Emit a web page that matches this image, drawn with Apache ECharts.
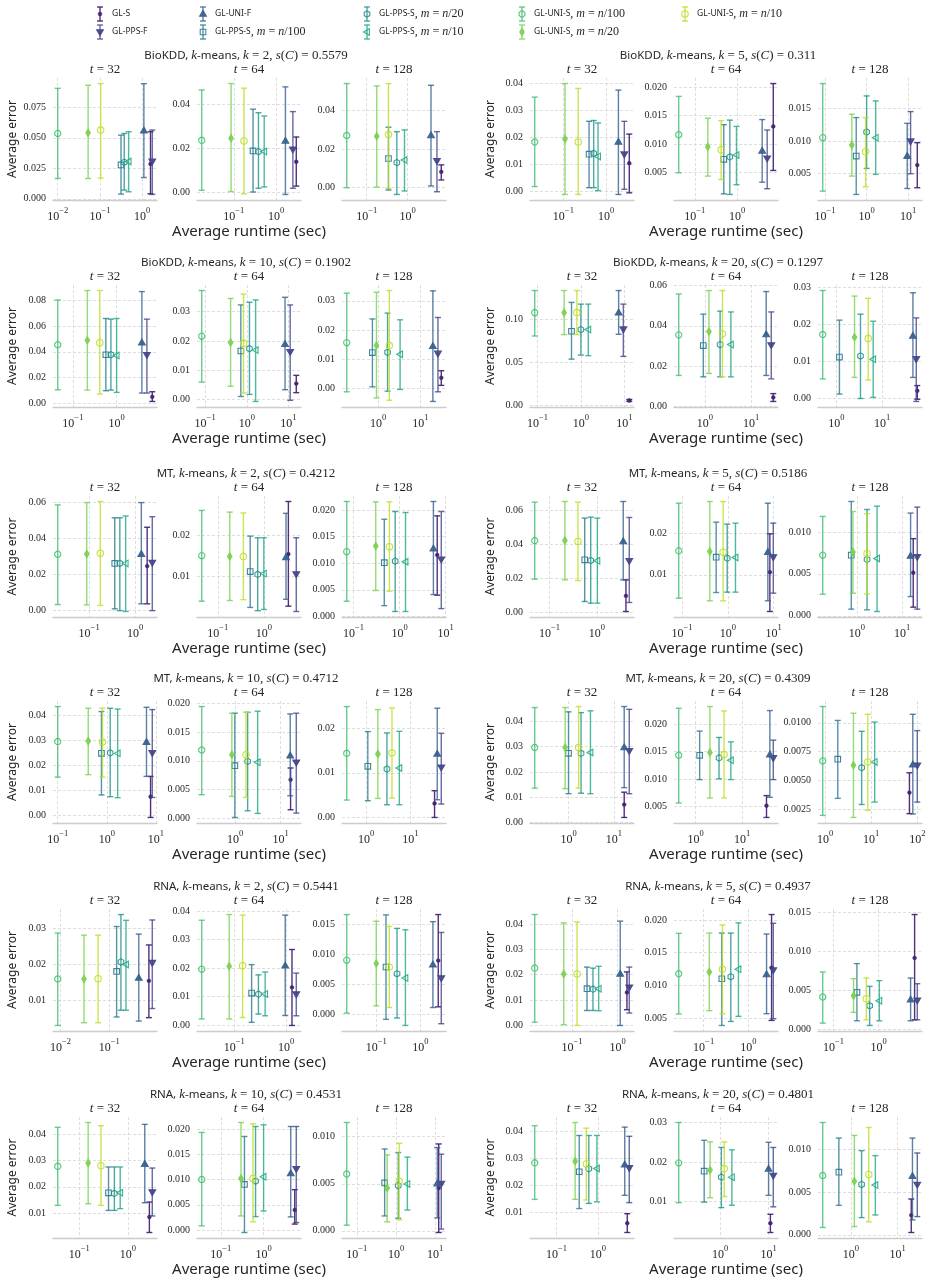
<!DOCTYPE html>
<html>
<head>
<meta charset="utf-8">
<script src="https://cdn.jsdelivr.net/npm/echarts@6.0.0/dist/echarts.min.js"></script>
<style>
  html, body { margin: 0; padding: 0; background: #fff; }
  #main { width: 928px; height: 1282px; }
</style>
</head>
<body>
<div id="main"></div>
<script>
// method order: GL-S, GL-PPS-F, GL-UNI-F, GL-PPS-S (n/100, n/20, n/10), GL-UNI-S (n/100, n/20, n/10)
const methodNames = ['GL-S', 'GL-PPS-F', 'GL-UNI-F', 'GL-PPS-S', 'GL-PPS-S', 'GL-PPS-S', 'GL-UNI-S', 'GL-UNI-S', 'GL-UNI-S'];
const sampleSizes = ['', '', '', '100', '20', '10', '100', '20', '10'];
const tValues = [32, 64, 128];

const datasets = ['BioKDD', 'BioKDD', 'BioKDD', 'BioKDD', 'MT', 'MT', 'MT', 'MT', 'RNA', 'RNA', 'RNA', 'RNA'];
const kValues = [2, 5, 10, 20, 2, 5, 10, 20, 2, 5, 10, 20];
const silhouettes = ['0.5579', '0.311', '0.1902', '0.1297', '0.4212', '0.5186', '0.4712', '0.4309', '0.5441', '0.4937', '0.4531', '0.4801'];

// y tick labels, per group, per t
const yTicks = [
  [['0.000', '0.025', '0.050', '0.075'], ['0.00', '0.02', '0.04'], ['0.00', '0.02', '0.04']],
  [['0.00', '0.01', '0.02', '0.03', '0.04'], ['0.005', '0.010', '0.015', '0.020'], ['0.005', '0.010', '0.015']],
  [['0.00', '0.02', '0.04', '0.06', '0.08'], ['0.00', '0.01', '0.02', '0.03'], ['0.00', '0.01', '0.02', '0.03']],
  [['0.00', '0.05', '0.10'], ['0.00', '0.02', '0.04', '0.06'], ['0.00', '0.01', '0.02', '0.03']],
  [['0.00', '0.02', '0.04', '0.06'], ['0.01', '0.02'], ['0.000', '0.005', '0.010', '0.015', '0.020']],
  [['0.00', '0.02', '0.04', '0.06'], ['0.01', '0.02'], ['0.000', '0.005', '0.010']],
  [['0.00', '0.01', '0.02', '0.03', '0.04'], ['0.000', '0.005', '0.010', '0.015', '0.020'], ['0.00', '0.01', '0.02']],
  [['0.00', '0.01', '0.02', '0.03', '0.04'], ['0.005', '0.010', '0.015', '0.020'], ['0.0025', '0.0050', '0.0075', '0.0100']],
  [['0.01', '0.02', '0.03'], ['0.00', '0.01', '0.02', '0.03', '0.04'], ['0.000', '0.005', '0.010', '0.015']],
  [['0.00', '0.01', '0.02', '0.03', '0.04'], ['0.005', '0.010', '0.015', '0.020'], ['0.000', '0.005', '0.010', '0.015']],
  [['0.01', '0.02', '0.03', '0.04'], ['0.000', '0.005', '0.010', '0.015', '0.020'], ['0.000', '0.005', '0.010']],
  [['0.01', '0.02', '0.03', '0.04'], ['0.01', '0.02', '0.03'], ['0.000', '0.005', '0.010']]
];

// ---- BioKDD, k = 2
const runtime_BioKDD_2 = [[1.58, 1.74, 1.10, 0.316, 0.377, 0.479, 0.010, 0.0525, 0.104], [3.02, 2.51, 1.67, 0.286, 0.384, 0.525, 0.0174, 0.0863, 0.174], [6.7, 5.25, 3.75, 0.341, 0.547, 0.843, 0.0324, 0.176, 0.341]];
const error_BioKDD_2 = [[0.0286, 0.0308, 0.0558, 0.0278, 0.0300, 0.0306, 0.0536, 0.0542, 0.0564], [0.0140, 0.0196, 0.0234, 0.0189, 0.0186, 0.0186, 0.0237, 0.0246, 0.0234], [0.0082, 0.0139, 0.0270, 0.0151, 0.0130, 0.0143, 0.0270, 0.0266, 0.0275]];
const lower_BioKDD_2 = [[0.0042, 0.0036, 0.0175, 0.0039, 0.0072, 0.0058, 0.0167, 0.0167, 0.0170], [0.0030, 0.0020, -0.0008, 0.0003, 0.0020, 0.0026, 0.0011, 0.0005, -0.0005], [0.0040, -0.0021, 0.0009, -0.0012, -0.0035, -0.0017, 0.0000, 0.0003, -0.0003]];
const upper_BioKDD_2 = [[0.0550, 0.0564, 0.0944, 0.0522, 0.0536, 0.0550, 0.0906, 0.0931, 0.0945], [0.0252, 0.0367, 0.0479, 0.0378, 0.0362, 0.0347, 0.0465, 0.0494, 0.0473], [0.0118, 0.0290, 0.0530, 0.0313, 0.0290, 0.0299, 0.0539, 0.0527, 0.0539]];

// ---- BioKDD, k = 5
const runtime_BioKDD_5 = [[3.46, 2.65, 1.93, 0.398, 0.51, 0.645, 0.0214, 0.109, 0.222], [7.1, 5.1, 3.89, 0.484, 0.671, 0.964, 0.0419, 0.203, 0.419], [16.5, 11.4, 9.46, 0.562, 1.0, 1.65, 0.088, 0.441, 0.946]];
const error_BioKDD_5 = [[0.0105, 0.0138, 0.0183, 0.0138, 0.0141, 0.0130, 0.0183, 0.0194, 0.0183], [0.0131, 0.00753, 0.00882, 0.00735, 0.00776, 0.00812, 0.01164, 0.00953, 0.0090], [0.00633, 0.0100, 0.00772, 0.00772, 0.01141, 0.01054, 0.01054, 0.00941, 0.00839]];
const lower_BioKDD_5 = [[-0.0004, 0.0009, -0.0010, 0.0015, 0.0015, 0.0004, 0.0019, -0.0010, -0.0010], [0.0054, 0.0022, 0.00335, 0.0013, 0.0012, 0.0029, 0.0050, 0.00441, 0.0038], [0.00285, 0.0050, 0.00274, 0.00182, 0.00582, 0.0049, 0.00233, 0.00464, 0.0030]];
const upper_BioKDD_5 = [[0.0212, 0.0259, 0.0374, 0.0259, 0.0262, 0.0253, 0.0348, 0.0398, 0.0380], [0.0206, 0.01247, 0.0143, 0.0134, 0.0142, 0.0131, 0.01835, 0.01453, 0.0141], [0.00977, 0.01454, 0.01275, 0.01362, 0.01695, 0.01618, 0.01885, 0.01413, 0.01362]];

// ---- BioKDD, k = 10
const runtime_BioKDD_10 = [[6.53, 4.92, 3.78, 0.567, 0.74, 1.0, 0.045, 0.214, 0.412], [15.4, 11.0, 8.28, 0.72, 1.16, 1.63, 0.0829, 0.409, 0.836], [31.3, 26.1, 19.8, 0.731, 1.67, 3.31, 0.180, 0.912, 1.84]];
const error_BioKDD_10 = [[0.0052, 0.0377, 0.0470, 0.0377, 0.0377, 0.0371, 0.0454, 0.0488, 0.0470], [0.0055, 0.0163, 0.0189, 0.0166, 0.0174, 0.0169, 0.02166, 0.0195, 0.0192], [0.0037, 0.0120, 0.0145, 0.0123, 0.0124, 0.0117, 0.0157, 0.0147, 0.0147]];
const lower_BioKDD_10 = [[0.0016, 0.0081, 0.0081, 0.0099, 0.0104, 0.0086, 0.0106, 0.0104, 0.0073], [0.0024, -0.0002, 0.0034, 0.0011, 0.0018, -0.0006, 0.0060, 0.0046, 0.0023], [0.0011, -0.0011, -0.0044, 0.0006, -0.0009, -0.0003, -0.0011, -0.0032, -0.0040]];
const upper_BioKDD_10 = [[0.0091, 0.0652, 0.0865, 0.0657, 0.0652, 0.0657, 0.0800, 0.0873, 0.0873], [0.0083, 0.0323, 0.0349, 0.0323, 0.0332, 0.0340, 0.0372, 0.0345, 0.0360], [0.0061, 0.0243, 0.0334, 0.0238, 0.0258, 0.0235, 0.0326, 0.0329, 0.0335]];

// ---- BioKDD, k = 20
const runtime_BioKDD_20 = [[13.0, 9.5, 7.4, 0.609, 1.0, 1.48, 0.0867, 0.412, 0.809], [30.3, 27.4, 21.3, 0.92, 2.13, 3.65, 0.27, 1.22, 2.4], [58.5, 55.6, 47, 1.16, 3.35, 6.35, 0.5, 2.48, 4.94]];
const error_BioKDD_20 = [[0.0051, 0.0881, 0.1074, 0.0857, 0.0877, 0.0877, 0.1074, 0.1074, 0.1074], [0.0045, 0.0305, 0.0357, 0.0302, 0.0307, 0.0307, 0.0355, 0.0372, 0.0360], [0.0020, 0.0106, 0.0168, 0.0111, 0.0114, 0.0105, 0.0172, 0.0165, 0.0161]];
const lower_BioKDD_20 = [[0.0040, 0.0565, 0.0822, 0.0533, 0.0580, 0.0573, 0.0802, 0.0818, 0.0818], [0.0025, 0.0137, 0.0154, 0.0147, 0.0147, 0.0147, 0.0154, 0.0164, 0.0147], [-0.0003, -0.0009, 0.0056, 0.0011, -0.0001, 0.0002, 0.0052, 0.0056, 0.0049]];
const upper_BioKDD_20 = [[0.0063, 0.1173, 0.1331, 0.1193, 0.1173, 0.1173, 0.1331, 0.1331, 0.1331], [0.0064, 0.0469, 0.0570, 0.0458, 0.0473, 0.0469, 0.0558, 0.0575, 0.0575], [0.0034, 0.0217, 0.0285, 0.0211, 0.0227, 0.0208, 0.0291, 0.0276, 0.0270]];

// ---- MT, k = 2
const runtime_MT_2 = [[1.82, 2.35, 1.36, 0.36, 0.464, 0.621, 0.0208, 0.0887, 0.175], [3.41, 5.06, 3.03, 0.506, 0.736, 1.0, 0.0449, 0.182, 0.36], [6.53, 8.0, 5.4, 0.464, 0.80, 1.34, 0.0711, 0.303, 0.6]];
const error_MT_2 = [[0.0245, 0.0264, 0.0311, 0.0260, 0.0260, 0.0260, 0.0311, 0.0313, 0.0317], [0.0154, 0.0105, 0.0146, 0.0111, 0.0104, 0.0106, 0.0150, 0.0148, 0.0148], [0.01155, 0.01073, 0.01275, 0.0101, 0.0104, 0.01029, 0.01218, 0.01325, 0.01312]];
const lower_MT_2 = [[0.0034, -0.0004, 0.0034, 0.0006, -0.0004, -0.0009, 0.0030, 0.0028, 0.0025], [0.0026, 0.0013, 0.0043, 0.0023, 0.0015, 0.0018, 0.00383, 0.0040, 0.0042], [0.00398, 0.00145, 0.0041, 0.0020, 0.0009, 0.0009, 0.00284, 0.00486, 0.00473]];
const upper_MT_2 = [[0.0462, 0.0521, 0.0600, 0.0515, 0.0515, 0.0525, 0.0587, 0.0600, 0.0606], [0.0283, 0.0194, 0.0254, 0.0198, 0.0194, 0.0194, 0.0261, 0.0257, 0.0255], [0.01893, 0.01975, 0.02164, 0.0183, 0.01975, 0.01956, 0.02164, 0.02158, 0.02158]];

// ---- MT, k = 5
const runtime_MT_5 = [[4.14, 4.87, 3.63, 0.556, 0.745, 1.03, 0.0488, 0.212, 0.401], [8.3, 9.85, 7.5, 0.556, 0.97, 1.47, 0.0845, 0.404, 0.79], [17.5, 21.5, 15.3, 0.748, 1.67, 2.78, 0.175, 0.815, 1.67]];
const error_MT_5 = [[0.0096, 0.0302, 0.0416, 0.0308, 0.0304, 0.0302, 0.0421, 0.0421, 0.0416], [0.01064, 0.01424, 0.01544, 0.01424, 0.0140, 0.01416, 0.01576, 0.0156, 0.01544], [0.00514, 0.00703, 0.00715, 0.00723, 0.00672, 0.00683, 0.00723, 0.00762, 0.00743]];
const lower_MT_5 = [[0.0004, 0.0057, 0.0190, 0.0063, 0.0053, 0.0053, 0.0194, 0.0190, 0.0186], [0.0012, 0.0056, 0.00376, 0.00576, 0.00584, 0.00584, 0.0044, 0.00376, 0.00376], [0.00103, 0.00079, 0.00229, 0.00079, 0.00071, 0.00051, 0.00257, 0.00269, 0.00261]];
const upper_MT_5 = [[0.0190, 0.0557, 0.0651, 0.0553, 0.0559, 0.0553, 0.0647, 0.0651, 0.0647], [0.01984, 0.0224, 0.0272, 0.02264, 0.02216, 0.0224, 0.0272, 0.0276, 0.0276], [0.0092, 0.01296, 0.01225, 0.01363, 0.01268, 0.01307, 0.01185, 0.01244, 0.01217]];

// ---- MT, k = 10
const runtime_MT_10 = [[7.76, 8.4, 6.41, 0.776, 1.17, 1.66, 0.1, 0.418, 0.813], [16.7, 22.3, 16.4, 0.98, 1.88, 3.13, 0.182, 0.843, 1.73], [35.1, 49.8, 40.4, 1.09, 2.95, 5.62, 0.364, 1.84, 3.83]];
const error_MT_10 = [[0.0074, 0.0249, 0.0292, 0.0247, 0.0249, 0.0247, 0.0294, 0.0296, 0.0292], [0.00673, 0.00974, 0.0109, 0.00916, 0.00992, 0.00974, 0.01189, 0.01108, 0.01108], [0.00315, 0.01124, 0.01423, 0.01146, 0.01086, 0.01109, 0.01438, 0.01423, 0.01446]];
const lower_MT_10 = [[-0.0009, 0.0071, 0.0155, 0.0081, 0.0074, 0.0070, 0.0152, 0.0162, 0.0152], [0.00151, 0.00093, 0.00394, 0.00017, 0.00133, 0.00087, 0.00412, 0.00383, 0.00365], [0.0000, 0.0030, 0.00397, 0.00375, 0.00285, 0.00285, 0.0039, 0.00427, 0.00434]];
const upper_MT_10 = [[0.0155, 0.0422, 0.0431, 0.0414, 0.0427, 0.0424, 0.0434, 0.0427, 0.0428], [0.00876, 0.01827, 0.01815, 0.01827, 0.01844, 0.01862, 0.01943, 0.01827, 0.01844], [0.0060, 0.01888, 0.02449, 0.01925, 0.01895, 0.01932, 0.02487, 0.02419, 0.02457]];

// ---- MT, k = 20
const runtime_MT_20 = [[17.0, 22.0, 17.0, 1.0, 1.89, 3.05, 0.179, 0.842, 1.67], [33.6, 47.0, 39.7, 1.22, 3.19, 5.74, 0.432, 2.03, 4.1], [67.6, 100, 80, 1.88, 6.21, 11.9, 0.887, 4.12, 8.43]];
const error_MT_20 = [[0.0071, 0.0284, 0.0297, 0.0274, 0.0274, 0.0277, 0.0297, 0.0297, 0.0297], [0.00512, 0.01386, 0.01447, 0.01435, 0.01386, 0.01343, 0.01435, 0.01484, 0.01447], [0.00397, 0.00632, 0.00638, 0.00685, 0.00612, 0.00662, 0.0067, 0.00632, 0.00662]];
const lower_MT_20 = [[0.0020, 0.0114, 0.0138, 0.0114, 0.0116, 0.0114, 0.0136, 0.0134, 0.0136], [0.00297, 0.0099, 0.00666, 0.0099, 0.01004, 0.0099, 0.00562, 0.00654, 0.00654], [0.00215, 0.00315, 0.00212, 0.00347, 0.00294, 0.00315, 0.0020, 0.00182, 0.00244]];
const upper_MT_20 = [[0.0120, 0.0448, 0.0459, 0.0438, 0.0435, 0.0442, 0.0455, 0.0455, 0.0459], [0.00697, 0.01712, 0.02253, 0.01878, 0.01761, 0.01681, 0.02296, 0.02327, 0.02247], [0.00568, 0.00932, 0.01073, 0.0102, 0.00926, 0.01006, 0.0114, 0.01082, 0.01073]];

// ---- RNA, k = 2
const runtime_RNA_2 = [[0.651, 0.764, 0.404, 0.142, 0.174, 0.221, 0.0088, 0.0304, 0.0592], [1.29, 1.56, 0.957, 0.216, 0.292, 0.393, 0.0237, 0.08, 0.145], [2.52, 2.95, 1.91, 0.166, 0.295, 0.456, 0.0215, 0.1, 0.197]];
const error_RNA_2 = [[0.0155, 0.0205, 0.0163, 0.0181, 0.0207, 0.0200, 0.0160, 0.0160, 0.0161], [0.0132, 0.0108, 0.0208, 0.0112, 0.0108, 0.0109, 0.0196, 0.0206, 0.0208], [0.0090, 0.00606, 0.00832, 0.00792, 0.00679, 0.00606, 0.00906, 0.00849, 0.00792]];
const lower_RNA_2 = [[0.00533, 0.00785, 0.00439, 0.00551, 0.00738, 0.00738, 0.00317, 0.00392, 0.00392], [-0.0002, 0.0032, 0.0033, 0.0009, 0.0038, 0.0032, 0.0021, 0.0021, 0.0026], [0.00125, -0.00158, 0.00113, -0.00085, -0.00062, -0.00187, 0.0002, 0.00142, 0.00113]];
const upper_RNA_2 = [[0.0254, 0.0323, 0.0284, 0.0305, 0.0338, 0.0322, 0.0287, 0.0281, 0.0281], [0.0265, 0.0182, 0.0386, 0.0212, 0.0176, 0.0186, 0.0368, 0.0388, 0.0386], [0.0167, 0.0137, 0.01551, 0.01664, 0.01438, 0.01415, 0.0167, 0.01557, 0.01472]];

// ---- RNA, k = 5
const runtime_RNA_5 = [[1.6, 1.8, 1.14, 0.213, 0.288, 0.384, 0.0152, 0.0658, 0.129], [3.3, 3.6, 2.55, 0.255, 0.405, 0.6, 0.0278, 0.134, 0.264], [6.2, 7.1, 5.06, 0.33, 0.631, 1.03, 0.058, 0.278, 0.532]];
const error_RNA_5 = [[0.0130, 0.0150, 0.0203, 0.0145, 0.0143, 0.0145, 0.0226, 0.0203, 0.0203], [0.01271, 0.01235, 0.01168, 0.01101, 0.01132, 0.01245, 0.01178, 0.01204, 0.01245], [0.00914, 0.00369, 0.00377, 0.00472, 0.0030, 0.00365, 0.00412, 0.00429, 0.0039]];
const lower_RNA_5 = [[0.0062, 0.0049, 0.0000, 0.0059, 0.0059, 0.0058, 0.0013, 0.0003, 0.0000], [0.00464, 0.0049, 0.00567, 0.00387, 0.00449, 0.00526, 0.00562, 0.00613, 0.00567], [0.0012, 0.0012, 0.00107, 0.00107, 0.00047, 0.00107, 0.00077, 0.00215, 0.0012]];
const upper_RNA_5 = [[0.0211, 0.0230, 0.0411, 0.0230, 0.0226, 0.0233, 0.0437, 0.0404, 0.0408], [0.02083, 0.0195, 0.01785, 0.0180, 0.0180, 0.01955, 0.01795, 0.0180, 0.01924], [0.01471, 0.00583, 0.00656, 0.00841, 0.00549, 0.00622, 0.00734, 0.00648, 0.00656]];

// ---- RNA, k = 10
const runtime_RNA_10 = [[2.79, 3.2, 2.24, 0.4, 0.528, 0.697, 0.0358, 0.152, 0.279], [5.36, 5.82, 4.32, 0.357, 0.649, 1.0, 0.0357, 0.296, 0.566], [12.3, 14.3, 11.3, 0.513, 1.14, 1.95, 0.0552, 0.594, 1.21]];
const error_RNA_10 = [[0.0086, 0.0180, 0.0286, 0.01775, 0.0175, 0.01775, 0.02775, 0.0290, 0.0280], [0.0040, 0.0121, 0.0112, 0.00903, 0.00968, 0.01053, 0.0100, 0.0102, 0.0102], [0.00456, 0.00502, 0.00502, 0.00509, 0.00481, 0.00498, 0.00604, 0.00456, 0.00526]];
const lower_RNA_10 = [[0.00275, 0.0090, 0.0140, 0.0111, 0.0111, 0.01175, 0.0130, 0.0136, 0.0130], [0.0012, 0.0015, 0.00262, -0.00046, 0.00268, 0.00379, 0.00085, 0.00281, 0.00164], [-0.00018, 0.00018, 0.00137, 0.00158, 0.00133, 0.00221, 0.0006, 0.00095, 0.00116]];
const upper_RNA_10 = [[0.01425, 0.0271, 0.0436, 0.0275, 0.0275, 0.0275, 0.0425, 0.0443, 0.0431], [0.0080, 0.02047, 0.02047, 0.0185, 0.02047, 0.0208, 0.0193, 0.02126, 0.0210], [0.00923, 0.00814, 0.00885, 0.0087, 0.00832, 0.00783, 0.01151, 0.00807, 0.0093]];

// ---- RNA, k = 20
const runtime_RNA_20 = [[5.1, 5.7, 4.43, 0.354, 0.603, 0.946, 0.0299, 0.282, 0.525], [10.9, 12.5, 10, 0.469, 1.06, 1.75, 0.14, 0.621, 1.22], [19.7, 26.5, 20.9, 0.554, 1.7, 3.35, 0.25, 1.19, 2.42]];
const error_RNA_20 = [[0.0061, 0.0265, 0.0277, 0.0251, 0.0262, 0.0263, 0.0284, 0.0290, 0.0280], [0.00456, 0.0166, 0.0183, 0.0177, 0.0162, 0.0162, 0.0198, 0.0180, 0.0183], [0.0023, 0.00591, 0.00689, 0.00735, 0.00591, 0.00584, 0.00696, 0.0063, 0.00708]];
const lower_RNA_20 = [[0.00266, 0.0137, 0.0164, 0.0115, 0.0134, 0.0140, 0.0149, 0.0149, 0.0147], [0.00222, 0.0087, 0.0116, 0.0099, 0.0085, 0.0091, 0.00975, 0.0110, 0.0113], [0.00027, 0.00214, 0.00175, 0.00346, 0.00202, 0.00233, 0.00086, 0.00097, 0.00152]];
const upper_RNA_20 = [[0.0096, 0.0382, 0.0416, 0.0385, 0.0385, 0.0385, 0.0421, 0.0433, 0.0412], [0.00682, 0.0237, 0.0250, 0.0255, 0.0237, 0.0231, 0.0300, 0.0251, 0.0251], [0.0042, 0.00961, 0.01136, 0.01136, 0.00988, 0.0093, 0.01319, 0.01167, 0.0126]];

const runtimes = [runtime_BioKDD_2, runtime_BioKDD_5, runtime_BioKDD_10, runtime_BioKDD_20, runtime_MT_2, runtime_MT_5, runtime_MT_10, runtime_MT_20, runtime_RNA_2, runtime_RNA_5, runtime_RNA_10, runtime_RNA_20];
const errors = [error_BioKDD_2, error_BioKDD_5, error_BioKDD_10, error_BioKDD_20, error_MT_2, error_MT_5, error_MT_10, error_MT_20, error_RNA_2, error_RNA_5, error_RNA_10, error_RNA_20];
const lowers = [lower_BioKDD_2, lower_BioKDD_5, lower_BioKDD_10, lower_BioKDD_20, lower_MT_2, lower_MT_5, lower_MT_10, lower_MT_20, lower_RNA_2, lower_RNA_5, lower_RNA_10, lower_RNA_20];
const uppers = [upper_BioKDD_2, upper_BioKDD_5, upper_BioKDD_10, upper_BioKDD_20, upper_MT_2, upper_MT_5, upper_MT_10, upper_MT_20, upper_RNA_2, upper_RNA_5, upper_RNA_10, upper_RNA_20];

// styling
const colors = ['#482475', '#414487', '#355f8d', '#2a788e', '#21918c', '#22a884', '#44bf70', '#7ad151', '#bddf26'];
const markers = ['dot', 'triDown', 'triUp', 'square', 'hexagon', 'triLeft', 'octagon', 'thinDiamond', 'circle'];
const filled = [true, true, true, false, false, false, false, true, false];

// layout
const panelLeft = [53, 197, 342, 530, 674, 818];
const panelWidth = 104;
const rowTop = [78, 285, 496, 701, 909, 1117];
const rowBottom = [200, 407, 617, 823, 1031, 1238];
const titleX = [246, 718];
const yNameX = [13, 491];

const SERIF = 'Liberation Serif';
const SANS = 'Noto Sans';
const TXT = '#262626';
const gridLine = { color: '#d6d6d6', width: 0.8, type: [3, 2] };

function ngon(n, r, rot) {
  const pts = [];
  for (let i = 0; i < n; i++) {
    const a = rot + i * 2 * Math.PI / n;
    pts.push([r * Math.cos(a), r * Math.sin(a)]);
  }
  return pts;
}

function markerShape(mi, cx, cy) {
  const c = colors[mi];
  const st = { fill: filled[mi] ? c : 'none', stroke: c, lineWidth: 1.1, opacity: 0.9 };
  const poly = pts => ({ type: 'polygon', shape: { points: pts.map(p => [cx + p[0], cy + p[1]]) }, style: st });
  switch (markers[mi]) {
    case 'dot': return { type: 'circle', shape: { cx, cy, r: 1.9 }, style: { fill: c, stroke: c, lineWidth: 0.5 } };
    case 'triDown': return poly([[-3.4, -2.3], [3.4, -2.3], [0, 3.6]]);
    case 'triUp': return poly([[-3.4, 2.3], [3.4, 2.3], [0, -3.6]]);
    case 'triLeft': return poly([[-3.4, 0], [2.4, -3.3], [2.4, 3.3]]);
    case 'square': return poly([[-2.8, -2.8], [2.8, -2.8], [2.8, 2.8], [-2.8, 2.8]]);
    case 'hexagon': return poly(ngon(6, 3.2, Math.PI / 2));
    case 'octagon': return poly(ngon(8, 3.2, Math.PI / 8));
    case 'thinDiamond': return poly([[0, -3.7], [2.3, 0], [0, 3.7], [-2.3, 0]]);
    default: return { type: 'circle', shape: { cx, cy, r: 3.2 }, style: st };
  }
}

function errorBar(mi, x, yHi, yLo, yMid) {
  const c = colors[mi];
  const ls = { stroke: c, lineWidth: 1.4, opacity: mi === 0 ? 0.95 : 0.8 };
  return [
    { type: 'line', shape: { x1: x, y1: yHi, x2: x, y2: yLo }, style: ls },
    { type: 'line', shape: { x1: x - 3, y1: yHi, x2: x + 3, y2: yHi }, style: ls },
    { type: 'line', shape: { x1: x - 3, y1: yLo, x2: x + 3, y2: yLo }, style: ls },
    markerShape(mi, x, yMid)
  ];
}

function makeRenderer(mi) {
  return function (params, api) {
    const x = api.value(0);
    const p = api.coord([x, api.value(1)]);
    const lo = api.coord([x, api.value(2)])[1];
    const hi = api.coord([x, api.value(3)])[1];
    return { type: 'group', children: errorBar(mi, p[0], hi, lo, p[1]) };
  };
}

function padded(vals) {
  const mn = Math.min(...vals), mx = Math.max(...vals);
  const pad = (mx - mn) * 0.05;
  return [mn - pad, mx + pad];
}

function seriesName(mi) {
  return sampleSizes[mi] ? methodNames[mi] + ', m = n/' + sampleSizes[mi] : methodNames[mi];
}

const grids = [], xAxes = [], yAxes = [], series = [], graphics = [];
const renderers = colors.map((c, mi) => makeRenderer(mi));

for (let g = 0; g < 12; g++) {
  const row = Math.floor(g / 2), col = g % 2;
  const top = rowTop[row], bottom = rowBottom[row];
  for (let p = 0; p < 3; p++) {
    const idx = g * 3 + p;
    const left = panelLeft[col * 3 + p];
    grids.push({ left, top, width: panelWidth, height: bottom - top, outerBoundsMode: 'none' });

    const logX = runtimes[g][p].map(v => Math.log10(v));
    const xr = padded(logX);
    const yr = padded(lowers[g][p].concat(uppers[g][p]));
    const xt = [];
    for (let e = Math.ceil(xr[0]); e <= Math.floor(xr[1]); e++) xt.push(e);
    const yLabels = yTicks[g][p];
    const yv = yLabels.map(Number);
    const dec = yLabels[0].split('.')[1].length;

    xAxes.push({
      type: 'value', gridIndex: idx, min: xr[0], max: xr[1],
      axisLine: { show: true, onZero: false, lineStyle: { color: '#cccccc', width: 1.4 } },
      axisTick: { show: false, customValues: xt },
      splitLine: { show: true, lineStyle: gridLine },
      axisLabel: {
        customValues: xt, margin: 6,
        formatter: v => '{b|10}{s|' + (v < 0 ? '\u2212' + (-v) : String(v)) + '}',
        rich: {
          b: { fontFamily: SERIF, fontSize: 12, color: TXT, lineHeight: 17, verticalAlign: 'bottom' },
          s: { fontFamily: SERIF, fontSize: 8.5, color: TXT, lineHeight: 17, verticalAlign: 'top' }
        }
      }
    });
    yAxes.push({
      type: 'value', gridIndex: idx, min: yr[0], max: yr[1],
      axisLine: { show: false },
      axisTick: { show: false, customValues: yv },
      splitLine: { show: true, lineStyle: gridLine },
      axisLabel: {
        customValues: yv, margin: 7,
        formatter: v => Number(v).toFixed(dec),
        fontFamily: SERIF, fontSize: 10, color: TXT
      }
    });

    for (let mi = 0; mi < 9; mi++) {
      series.push({
        type: 'custom', name: seriesName(mi), xAxisIndex: idx, yAxisIndex: idx,
        renderItem: renderers[mi], silent: true, clip: false,
        data: [[logX[mi], errors[g][p][mi], lowers[g][p][mi], uppers[g][p][mi]]]
      });
    }

    graphics.push({
      type: 'text', x: left + panelWidth / 2, y: top - 8,
      style: {
        text: '{i|t}{m| = ' + tValues[p] + '}', align: 'center', verticalAlign: 'middle',
        rich: { i: { fontFamily: SERIF, fontStyle: 'italic', fontSize: 13, fill: TXT }, m: { fontFamily: SERIF, fontSize: 13, fill: TXT } }
      }
    });
  }

  // group title
  graphics.push({
    type: 'text', x: titleX[col], y: top - 22,
    style: {
      text: '{w|' + datasets[g] + ', }{i|k}{w|-means, }{i|k}{m| = ' + kValues[g] + ', }{i|s}{m|(}{i|C}{m|) = ' + silhouettes[g] + '}',
      align: 'center', verticalAlign: 'middle',
      rich: {
        w: { fontFamily: SANS, fontSize: 11.5, fill: TXT },
        i: { fontFamily: SERIF, fontStyle: 'italic', fontSize: 13, fill: TXT },
        m: { fontFamily: SERIF, fontSize: 13, fill: TXT }
      }
    }
  });
  // axis names
  graphics.push({
    type: 'text', x: yNameX[col], y: (top + bottom) / 2, rotation: Math.PI / 2,
    style: { text: 'Average error', align: 'center', verticalAlign: 'middle', fontFamily: SANS, fontSize: 12, fill: TXT }
  });
  graphics.push({
    type: 'text', x: panelLeft[col * 3 + 1] + panelWidth / 2, y: bottom + 32,
    style: { text: 'Average runtime (sec)', align: 'center', verticalAlign: 'middle', fontFamily: SANS, fontSize: 15, fill: TXT }
  });
}

// legend (5 columns x 2 rows, column-major)
const legendColX = [100, 203, 367, 522, 685];
const legendRowY = [14, 32];
for (let mi = 0; mi < 9; mi++) {
  const lx = legendColX[Math.floor(mi / 2)], ly = legendRowY[mi % 2];
  graphics.push({ type: 'group', children: errorBar(mi, lx, ly - 7, ly + 7, ly) });
  const label = sampleSizes[mi]
    ? '{sc|' + methodNames[mi] + '}{m|, }{i|m}{m| = }{i|n}{m|/' + sampleSizes[mi] + '}'
    : '{sc|' + methodNames[mi] + '}';
  graphics.push({
    type: 'text', x: lx + 12, y: ly,
    style: {
      text: label, align: 'left', verticalAlign: 'middle',
      rich: {
        sc: { fontFamily: SANS, fontSize: 8.5, fill: TXT },
        i: { fontFamily: SERIF, fontStyle: 'italic', fontSize: 12, fill: TXT },
        m: { fontFamily: SERIF, fontSize: 12, fill: TXT }
      }
    }
  });
}

const chart = echarts.init(document.getElementById('main'), null, { renderer: 'canvas' });
chart.setOption({
  animation: false,
  backgroundColor: '#ffffff',
  grid: grids,
  xAxis: xAxes,
  yAxis: yAxes,
  series,
  graphic: graphics
});
</script>
</body>
</html>
